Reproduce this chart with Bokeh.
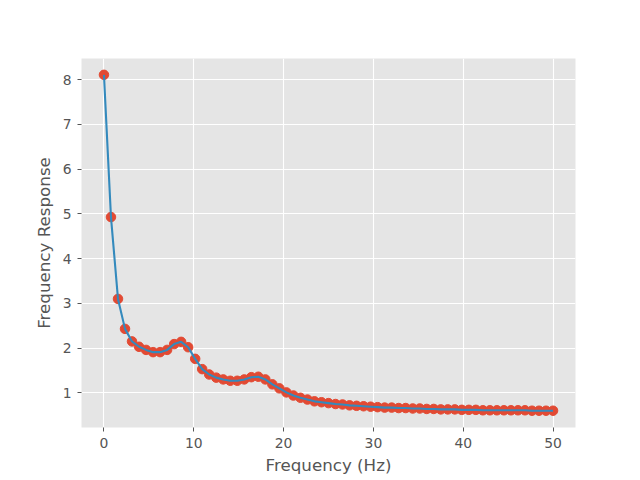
from bokeh.plotting import figure
from bokeh.models import Range1d, FixedTicker
from bokeh.embed import file_html
from bokeh.resources import INLINE

n_points = 65
f_max = 50.0
freqs = [f_max * i / (n_points - 1) for i in range(n_points)]
response = [
    8.11, 4.93, 3.10, 2.43, 2.15, 2.03, 1.96, 1.91, 1.91, 1.96,
    2.09, 2.14, 2.02, 1.76, 1.53, 1.41, 1.34, 1.30, 1.27, 1.27,
    1.30, 1.35, 1.36, 1.30, 1.19, 1.10, 1.01, 0.94, 0.89, 0.85,
    0.81, 0.79, 0.77, 0.75, 0.74, 0.72, 0.71, 0.70, 0.69, 0.68,
    0.67, 0.67, 0.66, 0.66, 0.65, 0.65, 0.64, 0.64, 0.63, 0.63,
    0.63, 0.62, 0.62, 0.62, 0.61, 0.61, 0.61, 0.61, 0.61, 0.61,
    0.61, 0.60, 0.60, 0.60, 0.60,
]
x_ticks = [0, 10, 20, 30, 40, 50]
y_ticks = [1, 2, 3, 4, 5, 6, 7, 8]

p = figure(width=640, height=480, output_backend="svg", toolbar_location=None,
           x_range=Range1d(-2.5, 52.5), y_range=Range1d(0.225, 8.475),
           min_border_left=81, min_border_right=65, min_border_top=58, min_border_bottom=53)
p.background_fill_color = "#E5E5E5"
p.border_fill_color = "white"
p.outline_line_color = None

p.scatter(freqs, response, size=9.5, fill_color="#E24A33", line_color="#E24A33")
p.line(freqs, response, line_color="#348ABD", line_width=2.1)

for ax in (p.xaxis, p.yaxis):
    ax.axis_line_color = None
    ax.major_tick_line_color = "#555555"
    ax.major_tick_out = 4
    ax.major_tick_in = 0
    ax.minor_tick_line_color = None
    ax.major_label_text_color = "#555555"
    ax.major_label_text_font = "DejaVu Sans"
    ax.major_label_text_font_size = "13.9px"
    ax.axis_label_text_color = "#555555"
    ax.axis_label_text_font = "DejaVu Sans"
    ax.axis_label_text_font_size = "16.7px"
    ax.axis_label_text_font_style = "normal"
    ax.major_label_standoff = 6

p.xaxis.axis_label_standoff = 4
p.yaxis.axis_label_standoff = 6

p.xaxis.ticker = FixedTicker(ticks=x_ticks)
p.yaxis.ticker = FixedTicker(ticks=y_ticks)
p.xaxis.axis_label = "Frequency (Hz)"
p.yaxis.axis_label = "Frequency Response"

p.xgrid.ticker = FixedTicker(ticks=x_ticks)
p.ygrid.ticker = FixedTicker(ticks=y_ticks)
p.grid.grid_line_color = "white"
p.grid.grid_line_width = 1.1

open("out.html", "w").write(file_html(p, INLINE))
